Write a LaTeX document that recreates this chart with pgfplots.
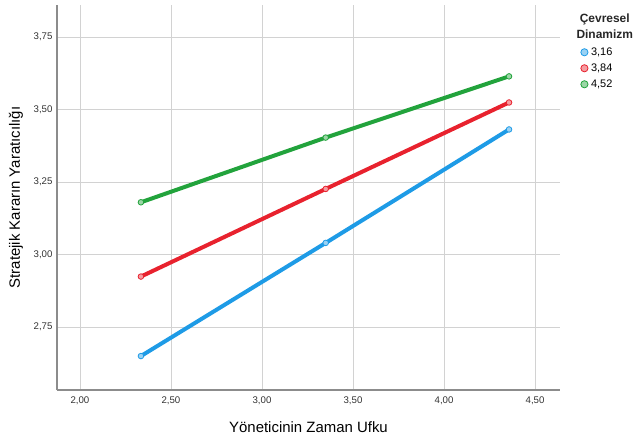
\documentclass[border=0pt]{standalone}
\usepackage{pgfplots}
\pgfplotsset{compat=1.18}
\usepackage{fontspec}
\setmainfont{Liberation Sans}
\definecolor{cblue}{HTML}{1E9BE6}
\definecolor{cred}{HTML}{E8222E}
\definecolor{cgreen}{HTML}{22A33C}
\definecolor{gridc}{HTML}{D2D2D2}
\definecolor{axc}{HTML}{8C8C8C}
\begin{document}
\begin{tikzpicture}
\useasboundingbox (-57bp,-47bp) rectangle (583bp,390bp);
\begin{axis}[
  scale only axis,
  width=503bp, height=385bp,
  xmin=1.874, xmax=4.637,
  ymin=2.533, ymax=3.86,
  axis lines*=left,
  axis line style={axc, line width=1.3bp, -},
  xtick={2,2.5,3,3.5,4,4.5},
  ytick={2.75,3,3.25,3.5,3.75},
  major tick length=0pt,
  grid=major,
  major grid style={gridc, line width=0.8bp},
  /pgf/number format/assume math mode=true,
  /pgf/number format/.cd, fixed, fixed zerofill, precision=2, use comma, 1000 sep={},
  /pgfplots/.cd,
  tick label style={font=\fontsize{9.7}{11}\selectfont, text=black!80},
  xticklabel style={yshift=-3bp},
  yticklabel style={xshift=-1bp},
  xlabel={Yöneticinin Zaman Ufku},
  ylabel={Stratejik Kararın Yaratıcılığı},
  label style={font=\fontsize{15}{17}\selectfont},
  xlabel style={at={(rel axis cs:0.5,0)}, anchor=center, yshift=-37bp},
  ylabel style={at={(rel axis cs:0,0.5)}, anchor=center, xshift=0bp, yshift=41bp},
  legend style={at={(rel axis cs:1.041,0.892)}, anchor=north west, draw=none, fill=none,
    font=\fontsize{11}{12}\selectfont, row sep=5bp, inner sep=0pt,
    nodes={inner sep=0.5bp, text height=8bp, text depth=2bp},
    /tikz/every odd column/.append style={column sep=2.5bp}},
  legend cell align=left,
  legend image code/.code={\draw[#1, only marks, mark size=3.6bp] plot coordinates {(0cm,0cm)};},
  every axis plot/.append style={line width=4bp, mark=*, mark size=2.8bp},
  clip=false,
]
\addplot[cblue, mark options={draw=cblue, fill=cblue!45!white, line width=0.8bp}] coordinates {(2.335,2.65) (3.35,3.04) (4.357,3.431)};
\addlegendentry{3,16}
\addplot[cred, mark options={draw=cred, fill=cred!45!white, line width=0.8bp}] coordinates {(2.335,2.924) (3.35,3.226) (4.357,3.524)};
\addlegendentry{3,84}
\addplot[cgreen, mark options={draw=cgreen, fill=cgreen!45!white, line width=0.8bp}] coordinates {(2.335,3.18) (3.35,3.403) (4.357,3.614)};
\addlegendentry{4,52}
\node[align=center, font=\fontsize{12}{15.5}\selectfont\bfseries, text=black!85, anchor=center] at (rel axis cs:1.089,0.945) {Çevresel\\Dinamizm};
\end{axis}
\end{tikzpicture}
\end{document}
